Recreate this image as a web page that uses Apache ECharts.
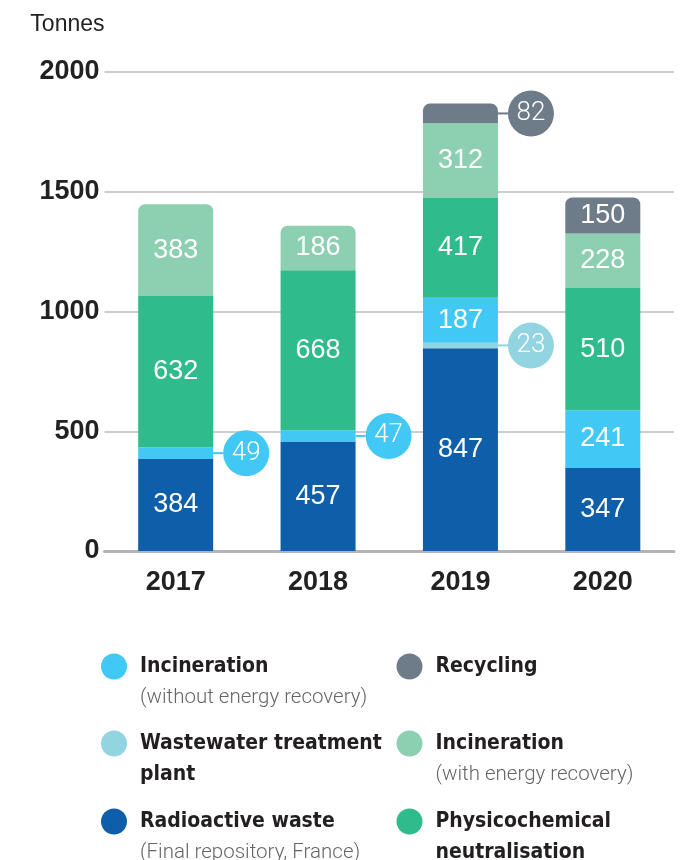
<!DOCTYPE html>
<html>
<head>
<meta charset="utf-8">
<script src="https://cdn.jsdelivr.net/npm/echarts@6/dist/echarts.min.js"></script>
<style>
  html, body { margin: 0; padding: 0; background: #fff; }
  #chart { width: 687px; height: 860px; }
</style>
</head>
<body>
<div id="chart"></div>
<script>
var years = ['2017', '2018', '2019', '2020'];
var radioactive = [384, 457, 847, 347];
var wastewater = ['-', '-', 23, '-'];
var incinerationNoEnergy = [49, 47, 187, 241];
var physicochemical = [632, 668, 417, 510];
var incinerationEnergy = [383, 186, 312, 228];
var recycling = ['-', '-', 82, 150];
var yTicks = [0, 500, 1000, 1500, 2000];

// stacked bottom -> top
var seriesDefs = [
    { name: 'Radioactive waste', data: radioactive, color: '#0f5ea9',
      lines: ['{b|Radioactive waste}', '{l|(Final repository, France)}'] },
    { name: 'Wastewater treatment plant', data: wastewater, color: '#92d5e0',
      lines: ['{b|Wastewater treatment}', '{b|plant}'] },
    { name: 'Incineration (without energy recovery)', data: incinerationNoEnergy, color: '#41c8f5',
      lines: ['{b|Incineration}', '{l|(without energy recovery)}'] },
    { name: 'Physicochemical neutralisation', data: physicochemical, color: '#2fbb8b',
      lines: ['{b|Physicochemical}', '{b|neutralisation}'] },
    { name: 'Incineration (with energy recovery)', data: incinerationEnergy, color: '#8ccfb1',
      lines: ['{b|Incineration}', '{l|(with energy recovery)}'] },
    { name: 'Recycling', data: recycling, color: '#6e7b88',
      lines: ['{b|Recycling}'] }
];

var textFont = '"Liberation Sans", Arial, sans-serif';
var narrowFont = '"DejaVu Sans Condensed", "Liberation Sans Narrow", sans-serif';

// index of top series per year (gets rounded corners)
var topIdx = years.map(function (y, i) {
    var t = 0;
    seriesDefs.forEach(function (s, k) { if (typeof s.data[i] === 'number') t = k; });
    return t;
});

function circleLabel(color) {
    return {
        show: true,
        position: 'right',
        distance: 0,
        formatter: '{l| }{c|{c}}',
        rich: {
            l: { width: 10, height: 2, backgroundColor: color, verticalAlign: 'middle' },
            c: {
                width: 46, height: 46, lineHeight: 46, borderRadius: 23,
                backgroundColor: color, color: '#fff', align: 'center', verticalAlign: 'middle',
                fontSize: 26, fontWeight: 300, fontFamily: 'Roboto, ' + textFont
            }
        }
    };
}

var series = seriesDefs.map(function (s, k) {
    return {
        name: s.name,
        type: 'bar',
        stack: 'total',
        barWidth: 75,
        itemStyle: { color: s.color },
        label: {
            show: true,
            position: 'inside',
            color: '#fff',
            fontSize: 27,
            fontFamily: textFont
        },
        data: s.data.map(function (v, i) {
            var item = { value: v };
            if (topIdx[i] === k) item.itemStyle = { borderRadius: [7, 7, 0, 0] };
            if (typeof v === 'number' && v < 100) item.label = circleLabel(s.color);
            return item;
        })
    };
});

// legend placement: [series index, left, top]
var legendPlaces = [
    [2, 101, 653.5],
    [1, 101, 730.5],
    [0, 101, 808.5],
    [5, 396.5, 653.5],
    [4, 396.5, 730.5],
    [3, 396.5, 808.5]
];

var legends = legendPlaces.map(function (p) {
    var s = seriesDefs[p[0]];
    var twoLines = s.lines.length > 1;
    return {
        left: p[1],
        top: p[2],
        padding: 0,
        icon: 'circle',
        itemWidth: 26,
        itemHeight: 26,
        selectedMode: false,
        data: [s.name],
        formatter: function () { return s.lines.join('\n'); },
        textStyle: {
            padding: twoLines ? [31, 0, 0, 8] : [0, 0, 0, 8],
            rich: {
                b: { fontFamily: narrowFont, fontWeight: 'bold', fontSize: 21, color: '#231f20', lineHeight: 31 },
                l: { fontFamily: 'Roboto, ' + textFont, fontWeight: 300, fontSize: 20.5, color: '#666', lineHeight: 31 }
            }
        }
    };
});

var option = {
    animation: false,
    backgroundColor: '#fff',
    legend: legends,
    grid: {
        left: 104.5,
        right: 13,
        top: 72,
        bottom: 309
    },
    xAxis: {
        type: 'category',
        data: years,
        axisLine: { lineStyle: { color: '#b4b4b4', width: 3 } },
        axisTick: { length: 9, lineStyle: { color: '#b4b4b4', width: 3 } },
        axisLabel: {
            margin: 18,
            fontSize: 27,
            fontWeight: 'bold',
            color: '#222',
            fontFamily: textFont
        }
    },
    yAxis: {
        type: 'value',
        min: yTicks[0],
        max: yTicks[yTicks.length - 1],
        interval: 500,
        name: 'Tonnes',
        nameLocation: 'end',
        nameGap: 47,
        nameTextStyle: {
            align: 'right',
            verticalAlign: 'middle',
            fontSize: 23,
            color: '#222',
            fontFamily: textFont
        },
        axisLine: { show: false },
        axisTick: { show: false },
        splitLine: { lineStyle: { color: '#bdbdbd', width: 1.5 } },
        axisLabel: {
            margin: 5,
            fontSize: 27,
            fontWeight: 'bold',
            color: '#222',
            fontFamily: textFont,
            formatter: function (v) { return String(v); }
        }
    },
    series: series
};

var chart = echarts.init(document.getElementById('chart'));
chart.setOption(option);
</script>
</body>
</html>
